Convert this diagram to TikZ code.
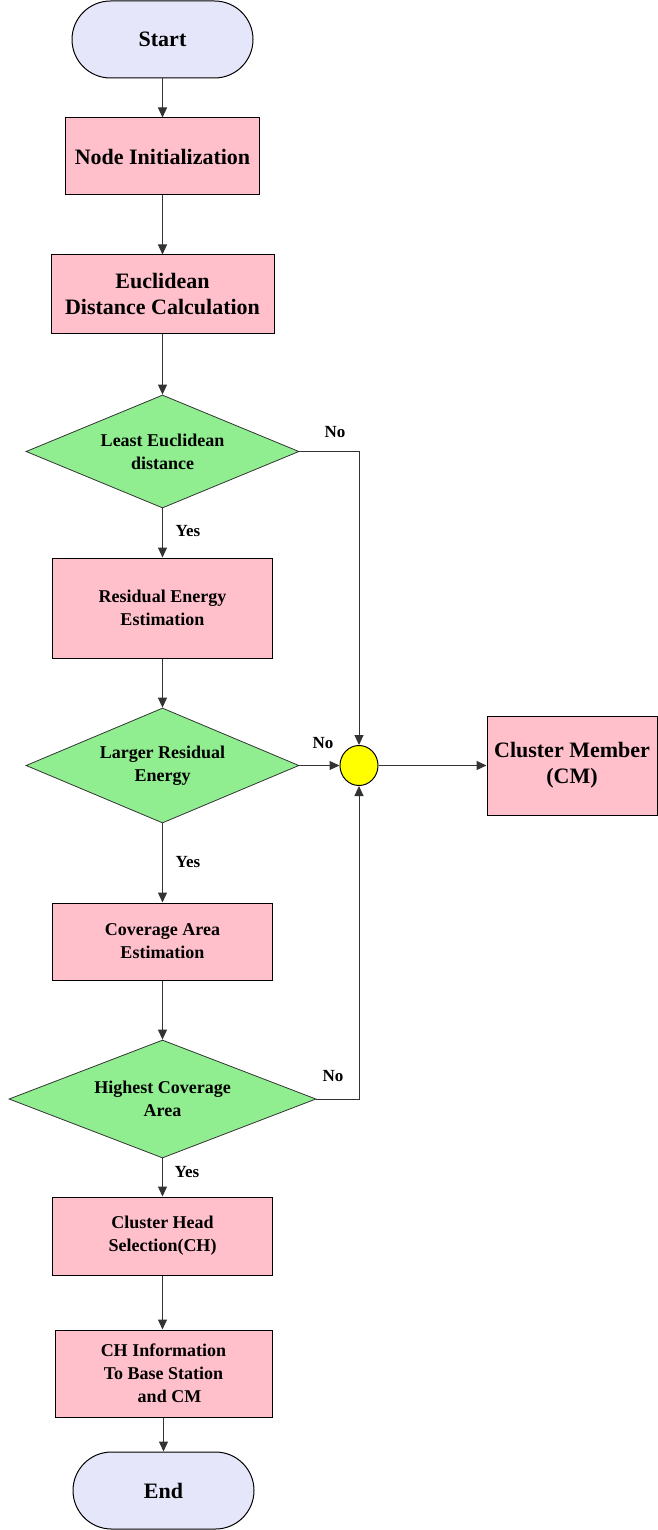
\documentclass[tikz,border=0pt]{standalone}
\usepackage{fontspec}
\setmainfont{Liberation Serif}
\usetikzlibrary{shapes.geometric,shapes.misc,arrows.meta}
\definecolor{termfill}{HTML}{E6E6FA}
\definecolor{boxfill}{HTML}{FFC0CB}
\definecolor{decfill}{HTML}{90EE90}
\definecolor{joinfill}{HTML}{FFFF00}
\definecolor{linecol}{HTML}{333333}
\tikzset{
  bigtext/.style={font=\bfseries\fontsize{22}{26}\selectfont},
  smalltext/.style={font=\bfseries\fontsize{18}{23}\selectfont},
  labtext/.style={font=\bfseries\fontsize{17}{20}\selectfont},
  term/.style={rounded rectangle, draw=black, fill=termfill, line width=1pt, bigtext, minimum width=181pt, minimum height=77pt, inner sep=0pt},
  proc/.style={rectangle, draw=black, fill=boxfill, line width=1pt, align=center, inner sep=0pt},
  dec/.style={diamond, draw=black!80, fill=decfill, line width=0.8pt, aspect=2.4, inner sep=0pt, align=center, smalltext},
  joinpt/.style={ellipse, draw=black, fill=joinfill, line width=1pt, minimum width=38pt, minimum height=40pt, inner sep=0pt},
  flow/.style={-{Triangle[length=10pt,width=9pt]}, line width=1pt, draw=linecol}
}
\begin{document}
\begin{tikzpicture}[x=1pt,y=-1pt]
\useasboundingbox (0,0) rectangle (658,1530);
\node[term] (start) at (162.5,39.5) {Start};
\node[proc, bigtext, minimum width=194pt, minimum height=77pt] (init) at (162.5,156.5) {Node Initialization};
\node[proc, bigtext, minimum width=223pt, minimum height=78pt] (eucl) at (162.5,294) {Euclidean\\Distance Calculation};
\node[dec, minimum width=273pt, minimum height=113pt] (d1) at (162.5,451.5) {Least Euclidean\\distance};
\node[proc, smalltext, minimum width=220pt, minimum height=100pt] (resid) at (162.5,608) {Residual Energy\\Estimation};
\node[dec, minimum width=273pt, minimum height=115pt] (d2) at (162.5,765.5) {Larger Residual\\Energy};
\node[joinpt] (jn) at (359,765.5) {};
\node[proc, bigtext, minimum width=170pt, minimum height=99pt] (cm) at (572,765.5) {Cluster Member\\(CM)};
\node[proc, smalltext, minimum width=220pt, minimum height=77pt] (cov) at (162.5,941.5) {Coverage Area\\Estimation};
\node[dec, minimum width=307pt, minimum height=118pt] (d3) at (162.5,1099) {Highest Coverage\\Area};
\node[proc, smalltext, minimum width=220pt, minimum height=78pt] (chs) at (162.5,1236) {Cluster Head\\Selection(CH)};
\node[proc, smalltext, minimum width=217pt, minimum height=87pt] (chi) at (163.5,1373.5) {CH Information\\To Base Station\\\hspace*{12pt}and CM};
\node[term] (end) at (163.5,1490.5) {End};

\node[labtext] (no1) at (335,432) {No};
\node[labtext] (no2) at (323,743) {No};
\node[labtext] (no3) at (333,1076) {No};
\node[labtext] (yes1) at (188,531) {Yes};
\node[labtext] (yes2) at (188,862) {Yes};
\node[labtext] (yes3) at (187,1172) {Yes};

\draw[flow] (start) -- (init);
\draw[flow] (init) -- (eucl);
\draw[flow] (eucl) -- (d1);
\draw[flow] (d1) -- (resid);
\draw[flow] (resid) -- (d2);
\draw[flow] (d2) -- (cov);
\draw[flow] (cov) -- (d3);
\draw[flow] (d3) -- (chs);
\draw[flow] (chs) -- (chi.north -| chs);
\draw[flow] (chi) -- (end);
\draw[flow] (d1.east) -| (jn.north);
\draw[flow] (d2.east) -- (jn.west);
\draw[flow] (d3.east) -| (jn.south);
\draw[flow] (jn.east) -- (cm.west);
\end{tikzpicture}
\end{document}
